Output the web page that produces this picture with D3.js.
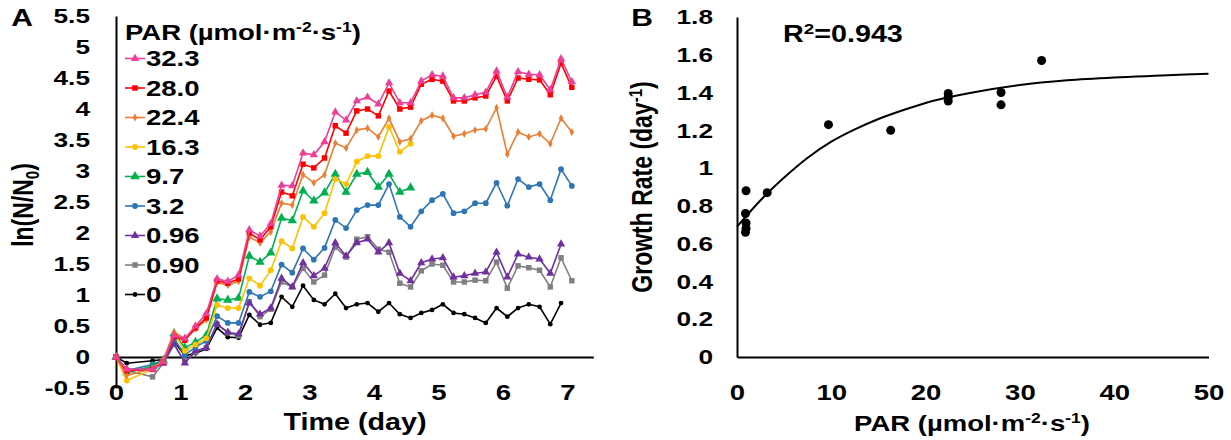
<!DOCTYPE html>
<html>
<head>
<meta charset="utf-8">
<script src="https://cdn.jsdelivr.net/npm/d3@7"></script>
<style>
  body { margin: 0; background: #fff; }
  svg { display: block; font-family: "Liberation Sans", Arial, sans-serif; font-weight: bold; }
</style>
</head>
<body>
<script>
// Panel A: ln(N/N0) over time, one array per PAR level
const timeDays = [0, 0.167, 0.567, 0.733,
    0.9, 1.067, 1.233, 1.4, 1.567, 1.733, 1.9, 2.067, 2.233, 2.4,
    2.567, 2.733, 2.9, 3.067, 3.233, 3.4, 3.567, 3.733, 3.9, 4.067,
    4.233, 4.4, 4.567, 4.733, 4.9, 5.067, 5.233, 5.4, 5.567, 5.733,
    5.9, 6.067, 6.233, 6.4, 6.567, 6.733, 6.9, 7.067];

const parLevels = ["32.3", "28.0", "22.4", "16.3", "9.7", "3.2", "0.96", "0.90", "0"];

const ln32_3 = [0, -0.2, -0.2, -0.08,
    0.35, 0.3, 0.5, 0.7, 1.26, 1.22, 1.32, 2.05, 1.95, 2.15,
    2.77, 2.76, 3.29, 3.26, 3.47, 3.95, 3.82, 4.13, 4.19, 4.08,
    4.42, 4.10, 4.10, 4.45, 4.55, 4.53, 4.18, 4.18, 4.23, 4.27,
    4.61, 4.19, 4.60, 4.56, 4.55, 4.31, 4.81, 4.44];
const ln28_0 = [0, -0.22, -0.2, -0.08,
    0.33, 0.27, 0.47, 0.63, 1.23, 1.19, 1.26, 2.0, 1.89, 2.10,
    2.66, 2.60, 3.11, 3.05, 3.21, 3.73, 3.61, 3.97, 4.00, 3.89,
    4.29, 4.00, 4.03, 4.40, 4.48, 4.45, 4.13, 4.13, 4.18, 4.21,
    4.53, 4.13, 4.50, 4.48, 4.47, 4.23, 4.74, 4.35];
const ln22_4 = [0, -0.3, -0.18, -0.05,
    0.4, 0.3, 0.45, 0.6, 1.2, 1.16, 1.22, 1.94, 1.84, 2.02,
    2.48, 2.45, 2.94, 2.81, 2.94, 3.45, 3.37, 3.66, 3.69, 3.55,
    3.85, 3.47, 3.52, 3.81, 3.90, 3.85, 3.56, 3.60, 3.66, 3.68,
    4.02, 3.27, 3.63, 3.55, 3.60, 3.44, 3.85, 3.63];
const ln16_3 = [0, -0.38, -0.2, -0.06,
    0.38, 0.1, 0.2, 0.3, 0.84, 0.79, 0.79, 1.27, 1.15, 1.40,
    1.87, 1.75, 2.26, 2.10, 2.32, 2.87, 2.79, 3.15, 3.24, 3.24,
    3.71, 3.31, 3.44, null, null, null, null, null, null, null,
    null, null, null, null, null, null, null, null];
const ln9_7 = [0, -0.25, -0.15, -0.05,
    0.38, 0.15, 0.24, 0.35, 0.94, 0.92, 0.95, 1.63, 1.53, 1.68,
    2.24, 2.20, 2.68, 2.52, 2.65, 2.95, 2.66, 2.95, 2.98, 2.74,
    2.95, 2.66, 2.73, null, null, null, null, null, null, null,
    null, null, null, null, null, null, null, null];
const ln3_2 = [0, -0.22, -0.12, -0.05,
    0.3, 0.03, 0.16, 0.26, 0.66, 0.55, 0.55, 1.05, 0.97, 1.06,
    1.49, 1.36, 1.75, 1.57, 1.76, 2.21, 2.08, 2.37, 2.45, 2.45,
    2.79, 2.26, 2.10, 2.35, 2.53, 2.63, 2.32, 2.35, 2.48, 2.48,
    2.81, 2.44, 2.87, 2.74, 2.79, 2.53, 3.03, 2.76];
const ln0_96 = [0, -0.2, -0.2, -0.1,
    0.22, -0.1, 0.1, 0.15, 0.53, 0.4, 0.37, 0.87, 0.69, 0.79,
    1.27, 1.13, 1.52, 1.31, 1.43, 1.84, 1.63, 1.84, 1.90, 1.69,
    1.84, 1.35, 1.23, 1.52, 1.58, 1.60, 1.29, 1.31, 1.35, 1.37,
    1.69, 1.29, 1.66, 1.61, 1.58, 1.35, 1.82, null];
const ln0_90 = [0, -0.22, -0.32, -0.1,
    0.2, -0.08, 0.08, 0.15, 0.53, 0.39, 0.34, 0.89, 0.65, 0.77,
    1.21, 1.13, 1.43, 1.21, 1.32, 1.77, 1.61, 1.90, 1.94, 1.74,
    1.69, 1.19, 1.13, 1.39, 1.50, 1.48, 1.21, 1.21, 1.24, 1.23,
    1.53, 1.11, 1.47, 1.44, 1.40, 1.13, 1.60, 1.23];
const ln0 = [0, -0.1, -0.06, -0.04,
    0.26, 0.02, 0.06, 0.13, 0.47, 0.32, 0.31, 0.68, 0.52, 0.55,
    0.97, 0.81, 1.15, 0.92, 0.85, 1.02, 0.79, 0.85, 0.87, 0.73,
    0.87, 0.69, 0.63, 0.71, 0.76, 0.85, 0.71, 0.69, 0.63, 0.55,
    0.79, 0.65, 0.79, 0.85, 0.81, 0.53, 0.87, null];

const yTicksA = [-0.5, 0, 0.5, 1, 1.5, 2, 2.5, 3, 3.5, 4, 4.5, 5, 5.5];
const xTicksA = [0, 1, 2, 3, 4, 5, 6, 7];

// Panel B: growth rate vs PAR, and the fitted curve
const growthPar = [0.9, 0.9, 0.96, 0.96, 0.96, 3.2, 9.7, 16.3, 22.4, 22.4, 22.4, 28.0, 28.0, 32.3];
const growthRate = [0.76, 0.66, 0.88, 0.71, 0.68, 0.87, 1.23, 1.20, 1.395, 1.375, 1.355, 1.40, 1.335, 1.57];
const fitPar = [0, 2.5, 5, 7.5, 10, 12.5, 15, 17.5, 20, 25, 30, 35, 40, 45, 50];
const fitRate = [0.69, 0.83, 0.95, 1.055, 1.14, 1.205, 1.26, 1.305, 1.345, 1.40, 1.44, 1.465, 1.48, 1.49, 1.50];
const yTicksB = [0, 0.2, 0.4, 0.6, 0.8, 1, 1.2, 1.4, 1.6, 1.8];
const xTicksB = [0, 10, 20, 30, 40, 50];

// styles
const colors = ["#ee3f98", "#ff0000", "#ed7d31", "#ffc000", "#00b050", "#2e75b6", "#7030a0", "#808080", "#000000"];
const shapes = [d3.symbolTriangle, d3.symbolSquare, d3.symbolDiamond, d3.symbolCircle, d3.symbolTriangle,
    d3.symbolCircle, d3.symbolTriangle, d3.symbolSquare, d3.symbolCircle];
const sizes = [30, 30, 18, 26, 38, 26, 30, 30, 18];
const SX = 1.25; // the picture is stretched sideways

let lnSeries = [ln32_3, ln28_0, ln22_4, ln16_3, ln9_7, ln3_2, ln0_96, ln0_90, ln0];
let series = parLevels.map((p, i) => ({
    par: p,
    points: timeDays.map((t, j) => ({t: t, v: lnSeries[i][j]})).filter(d => d.v != null),
    color: colors[i], shape: shapes[i], size: sizes[i]
}));

let svg = d3.select("body").append("svg")
    .attr("width", 1231)
    .attr("height", 440);

function stretch(sel) {
    sel.each(function () {
        let t = d3.select(this);
        let x = +t.attr("x") || 0, y = +t.attr("y") || 0;
        t.attr("x", null).attr("y", null)
            .attr("transform", "translate(" + x + "," + y + ") scale(" + SX + ",1)");
    });
}

function label(x, y, size, anchor) {
    let t = svg.append("text")
        .attr("font-size", size)
        .attr("text-anchor", anchor || "start")
        .attr("fill", "#000")
        .attr("transform", "translate(" + x + "," + y + ") scale(" + SX + ",1)");
    return t;
}

function styleAxis(g, size) {
    g.attr("font-size", null).attr("font-family", null);
    g.select(".domain").attr("stroke", "#000").attr("stroke-width", 2);
    g.selectAll("text").attr("font-size", size).attr("fill", "#000").call(stretch);
}

// ---------- Panel A ----------
let xA = d3.scaleLinear().domain([0, 7.4]).range([116, 116 + 7.4 * 64.5]);
let yA = d3.scaleLinear().domain([-0.5, 5.5]).range([388, 16]);

svg.append("g")
    .attr("transform", "translate(116,0)")
    .call(d3.axisLeft(yA).tickValues(yTicksA).tickSize(0).tickSizeOuter(0).tickPadding(26)
        .tickFormat(d => String(d)))
    .call(g => styleAxis(g, 21));

svg.append("g")
    .attr("transform", "translate(0," + yA(0) + ")")
    .call(d3.axisBottom(xA).tickValues(xTicksA).tickSize(0).tickSizeOuter(0).tickPadding(27)
        .tickFormat(d => String(d)))
    .call(g => styleAxis(g, 22));

let line = d3.line()
    .x(d => xA(d.t))
    .y(d => yA(d.v));

let gs = svg.append("g")
    .selectAll("g")
    .data(series.slice().reverse())
    .join("g");

gs.append("path")
    .attr("d", d => line(d.points))
    .attr("fill", "none")
    .attr("stroke", d => d.color)
    .attr("stroke-width", 1.6);

gs.each(function (s) {
    d3.select(this).selectAll("path.m")
        .data(s.points)
        .join("path")
        .attr("class", "m")
        .attr("d", d3.symbol().type(s.shape).size(s.size))
        .attr("transform", d => "translate(" + xA(d.t) + "," + yA(d.v) + ")")
        .attr("fill", s.color);
});

// legend
let lt = label(125, 40, 22);
lt.append("tspan").text("PAR (µmol·m");
lt.append("tspan").attr("font-size", 14).attr("dy", -8).text("-2");
lt.append("tspan").attr("dy", 8).text("·s");
lt.append("tspan").attr("font-size", 14).attr("dy", -8).text("-1");
lt.append("tspan").attr("dy", 8).text(")");

let leg = svg.append("g")
    .selectAll("g")
    .data(series)
    .join("g")
    .attr("transform", (d, i) => "translate(0," + (58.5 + i * 29.5) + ")");
leg.append("line")
    .attr("x1", 125).attr("x2", 145)
    .attr("stroke", d => d.color).attr("stroke-width", 1.6);
leg.append("path")
    .attr("d", d => d3.symbol().type(d.shape).size(d.size)())
    .attr("transform", "translate(135,0)")
    .attr("fill", d => d.color);
leg.append("text")
    .attr("font-size", 22)
    .attr("dy", "0.36em")
    .attr("transform", "translate(146,0) scale(" + SX + ",1)")
    .text(d => d.par);

label(22, 26, 24, "middle").text("A");

let yl = svg.append("text")
    .attr("font-size", 23)
    .attr("text-anchor", "middle")
    .attr("dy", "0.35em")
    .attr("transform", "translate(23,205) scale(" + SX + ",1) rotate(-90)");
yl.append("tspan").text("ln(N/N");
yl.append("tspan").attr("font-size", 15).attr("dy", 5).text("0");
yl.append("tspan").attr("dy", -5).text(")");

label(355, 430, 23, "middle").text("Time (day)");

// ---------- Panel B ----------
let xB = d3.scaleLinear().domain([0, 50]).range([737, 1208.5]);
let yB = d3.scaleLinear().domain([0, 1.8]).range([357, 17]);

svg.append("g")
    .attr("transform", "translate(737,0)")
    .call(d3.axisLeft(yB).tickValues(yTicksB).tickSize(0).tickSizeOuter(0).tickPadding(24)
        .tickFormat(d => String(+d.toFixed(1))))
    .call(g => styleAxis(g, 21));

svg.append("g")
    .attr("transform", "translate(0," + yB(0) + ")")
    .call(d3.axisBottom(xB).tickValues(xTicksB).tickSize(0).tickSizeOuter(0).tickPadding(27)
        .tickFormat(d => String(d)))
    .call(g => styleAxis(g, 22));

let fitLine = d3.line()
    .x((d, i) => xB(fitPar[i]))
    .y(d => yB(d))
    .curve(d3.curveMonotoneX);

svg.append("path")
    .attr("d", fitLine(fitRate))
    .attr("fill", "none")
    .attr("stroke", "#000")
    .attr("stroke-width", 2);

svg.append("g")
    .selectAll("circle")
    .data(growthPar)
    .join("circle")
    .attr("cx", d => xB(d))
    .attr("cy", (d, i) => yB(growthRate[i]))
    .attr("r", 4.5)
    .attr("fill", "#000");

label(642, 26, 24, "middle").text("B");

let gl = svg.append("text")
    .attr("font-size", 23)
    .attr("text-anchor", "middle")
    .attr("dy", "0.35em")
    .attr("transform", "translate(642,187) scale(" + SX + ",1) rotate(-90)");
gl.append("tspan").text("Growth Rate (day");
gl.append("tspan").attr("font-size", 15).attr("dy", -8).text("-1");
gl.append("tspan").attr("dy", 8).text(")");

let r2 = label(783, 42, 23);
r2.append("tspan").text("R");
r2.append("tspan").attr("font-size", 15).attr("dy", -8).text("2");
r2.append("tspan").attr("dy", 8).text("=0.943");

let xl = label(972, 431, 22, "middle");
xl.append("tspan").text("PAR (µmol·m");
xl.append("tspan").attr("font-size", 14).attr("dy", -8).text("-2");
xl.append("tspan").attr("dy", 8).text("·s");
xl.append("tspan").attr("font-size", 14).attr("dy", -8).text("-1");
xl.append("tspan").attr("dy", 8).text(")");
</script>
</body>
</html>
